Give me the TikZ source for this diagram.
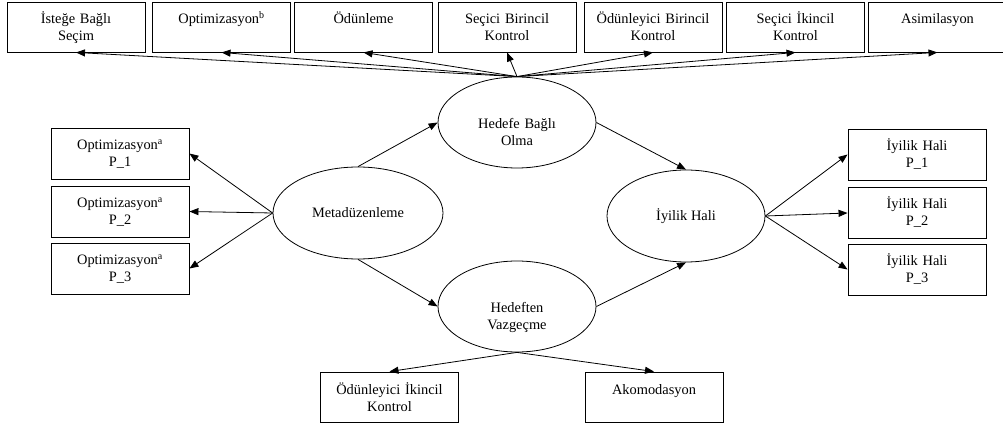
\documentclass[tikz,border=0pt]{standalone}
\usepackage{fontspec}
\setmainfont{Liberation Serif}
\usetikzlibrary{shapes.geometric,arrows.meta}
\begin{document}
\begin{tikzpicture}[x=1pt,y=-1pt,
  every node/.style={font=\fontsize{14.4}{17}\selectfont},
  box/.style={draw, rectangle, inner sep=0pt, minimum width=138pt, minimum height=50pt,
    text width=138pt, align=center, text height=22pt, text depth=28pt, line width=0.9pt},
  tallbox/.style={box, minimum height=51pt, text height=21.5pt, text depth=29.5pt},
  ell/.style={draw, ellipse, inner sep=0pt, minimum width=158pt, minimum height=91pt,
    align=center, line width=0.8pt},
  twoline/.style={text width=110pt, text height=21pt, text depth=9pt},
  arr/.style={-{Triangle[length=9pt,width=7pt]}, line width=0.8pt}]
\clip (0,0) rectangle (1003,427);
% top boxes
\node[box] (t1) at (76,27) {İsteğe Bağlı\\Seçim};
\node[box] (t2) at (221.5,27) {Optimizasyon\textsuperscript{b}};
\node[box] (t3) at (363.5,27) {Ödünleme};
\node[box] (t4) at (507,27) {Seçici Birincil\\Kontrol};
\node[box] (t5) at (653,27) {Ödünleyici Birincil\\Kontrol};
\node[box] (t6) at (795.5,27) {Seçici İkincil\\Kontrol};
\node[box] (t7) at (937.5,27) {Asimilasyon};
% ellipses
\node[ell, twoline] (hb) at (517,122.5) {Hedefe Bağlı\\Olma};
\node[ell, minimum width=170pt, minimum height=92pt] (md) at (358,213) {Metadüzenleme};
\node[ell, minimum height=92pt] (ih) at (686,216) {İyilik Hali};
\node[ell, twoline] (hv) at (517,306.5) {Hedeften\\Vazgeçme};
% left boxes
\node[tallbox] (l1) at (120,153.5) {Optimizasyon\textsuperscript{a}\\P\_1};
\node[tallbox] (l2) at (120,211.5) {Optimizasyon\textsuperscript{a}\\P\_2};
\node[tallbox] (l3) at (120,268.5) {Optimizasyon\textsuperscript{a}\\P\_3};
% right boxes
\node[tallbox] (r1) at (917,154.5) {İyilik Hali\\P\_1};
\node[tallbox] (r2) at (917,213) {İyilik Hali\\P\_2};
\node[tallbox] (r3) at (917,269.5) {İyilik Hali\\P\_3};
% bottom boxes
\node[box] (b1) at (389.5,397) {Ödünleyici İkincil\\Kontrol};
\node[box] (b2) at (654,397) {Akomodasyon};
% arrows
\foreach \t in {t1,t2,t3,t4,t5,t6,t7} \draw[arr] (hb.north) -- (\t.south);
\foreach \l in {l1,l2,l3} \draw[arr] (md.west) -- (\l.east);
\foreach \r in {r1,r2,r3} \draw[arr] (ih.east) -- (\r.west);
\draw[arr] (md.north) -- (hb.west);
\draw[arr] (md.south) -- (hv.west);
\draw[arr] (hb.east) -- (ih.north);
\draw[arr] (hv.east) -- (ih.south);
\draw[arr] (hv.south) -- (b1.north);
\draw[arr] (hv.south) -- (b2.north);
\end{tikzpicture}
\end{document}
